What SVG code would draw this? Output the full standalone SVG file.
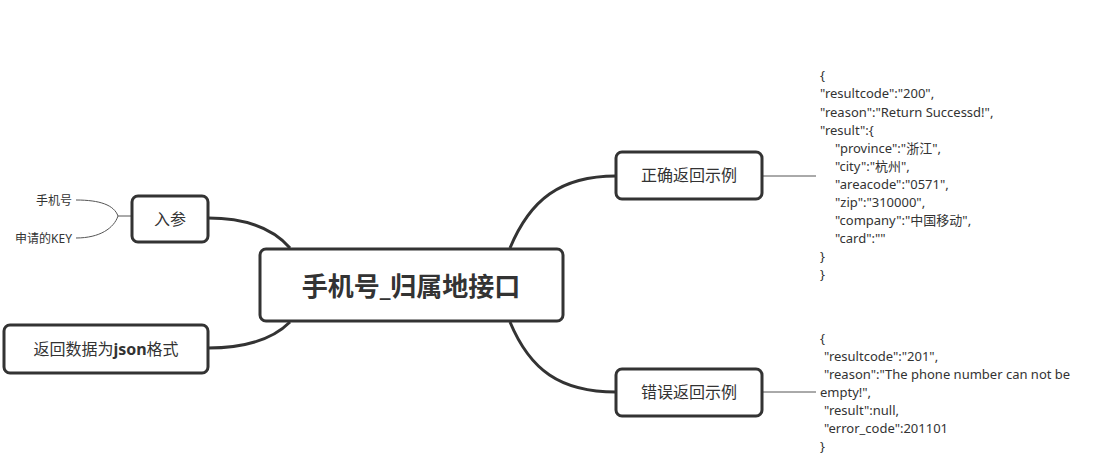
<svg xmlns="http://www.w3.org/2000/svg" width="1102" height="459" viewBox="0 0 1102 459">
<style>
.box{fill:#fff;stroke:#333;stroke-width:3}
.conn{fill:none;stroke:#333;stroke-width:3}
.thin{fill:none;stroke:#555;stroke-width:1}
.t{font-family:"Noto Sans","Noto Sans CJK SC",sans-serif;fill:#333}
.j{font-family:"Noto Sans","Noto Sans CJK SC",sans-serif;font-size:13px;fill:#333}
</style>
<rect width="1102" height="459" fill="#fff"/>
<g id="connectors">
<path class="conn" d="M290 248 C270 225 240 218 208 218"/>
<path class="conn" d="M290 322 C270 342 240 348 208 348"/>
<path class="conn" d="M510 248 C530 200 560 176 616 176"/>
<path class="conn" d="M510 322 C530 370 560 392 616 392"/>
<path class="thin" d="M762 176 H816"/>
<path class="thin" d="M762 392 H816"/>
<path class="thin" d="M132 216 H118 M76 200 C100 200 114 205 118 216 C114 228 100 238 76 238"/>
</g>
<g id="center"><rect class="box" x="260" y="249" width="303" height="72" rx="6"/><text class="t" x="411" y="296" font-size="26" font-weight="bold" text-anchor="middle">手机号_归属地接口</text></g>
<g id="rucan"><rect class="box" x="132" y="196" width="76" height="46" rx="6"/><text class="t" x="170" y="225" font-size="16" text-anchor="middle">入参</text></g>
<g id="leaf1"><text class="t" x="72" y="205" font-size="12" text-anchor="end">手机号</text></g>
<g id="leaf2"><text class="t" x="72" y="243" font-size="12" text-anchor="end">申请的KEY</text></g>
<g id="ret"><rect class="box" x="4" y="325" width="204" height="48" rx="6"/><text class="t" x="106" y="355" font-size="16" text-anchor="middle">返回数据为<tspan font-weight="bold">json</tspan>格式</text></g>
<g id="ok"><rect class="box" x="616" y="152" width="146" height="47" rx="6"/><text class="t" x="689" y="181" font-size="16" text-anchor="middle">正确返回示例</text></g>
<g id="err"><rect class="box" x="616" y="369" width="146" height="47" rx="6"/><text class="t" x="689" y="398" font-size="16" text-anchor="middle">错误返回示例</text></g>
<g id="okjson">
<text class="j" x="820" y="80">{</text>
<text class="j" x="820" y="98">"resultcode":"200",</text>
<text class="j" x="820" y="117">"reason":"Return Successd!",</text>
<text class="j" x="820" y="135">"result":{</text>
<text class="j" x="835" y="153">"province":"浙江",</text>
<text class="j" x="835" y="171">"city":"杭州",</text>
<text class="j" x="835" y="189">"areacode":"0571",</text>
<text class="j" x="835" y="207">"zip":"310000",</text>
<text class="j" x="835" y="225">"company":"中国移动",</text>
<text class="j" x="835" y="243">"card":""</text>
<text class="j" x="820" y="261">}</text>
<text class="j" x="820" y="279">}</text>
</g>
<g id="errjson">
<text class="j" x="820" y="343">{</text>
<text class="j" x="824" y="361">"resultcode":"201",</text>
<text class="j" x="824" y="379">"reason":"The phone number can not be</text>
<text class="j" x="820" y="397">empty!",</text>
<text class="j" x="824" y="415">"result":null,</text>
<text class="j" x="824" y="433">"error_code":201101</text>
<text class="j" x="820" y="451">}</text>
</g>
</svg>
